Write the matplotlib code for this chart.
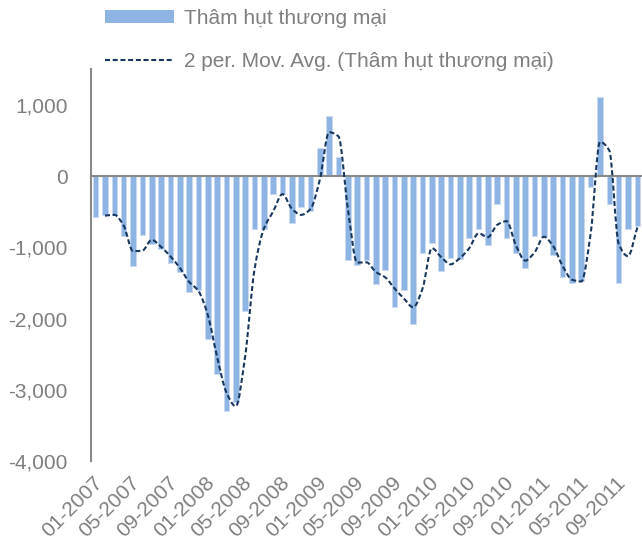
import matplotlib
matplotlib.use("Agg")
import matplotlib.pyplot as plt
import numpy as np
from matplotlib.path import Path
from matplotlib.patches import PathPatch
from matplotlib.lines import Line2D
from matplotlib.patches import Patch
import matplotlib.transforms as mtransforms
from matplotlib.ticker import FuncFormatter

plt.rcParams['font.family'] = ['Liberation Sans', 'DejaVu Sans']

# Monthly trade deficit, 01-2007 .. 11-2011
values = [-571, -538, -547, -842, -1263, -828, -959, -1025, -1226, -1343,
          -1623, -1600, -2292, -2780, -3293, -3170, -1900, -735, -745, -250,
          -255, -655, -431, -491, 393, 842, 276, -1179, -1249, -1170,
          -1521, -1319, -1834, -1600, -2082, -1076, -945, -1329, -1146, -1156,
          -866, -739, -973, -393, -870, -1076, -1296, -842, -860, -1109,
          -1413, -1493, -1465, -150, 1113, -393, -1502, -744, -697]
tick_labels = ["01-2007", "05-2007", "09-2007", "01-2008", "05-2008", "09-2008",
               "01-2009", "05-2009", "09-2009", "01-2010", "05-2010", "09-2010",
               "01-2011", "05-2011", "09-2011"]
bar_label = "Thâm hụt thương mại"
ma_label = "2 per. Mov. Avg. (Thâm hụt thương mại)"

TXT = '#7f7f7f'
AXC = '#898989'
BAR = '#8db4e2'
LINE = '#17375e'

fig = plt.figure(figsize=(6.42, 5.47), dpi=100)
ax = fig.add_axes([91/642, 1-461/547, 551/642, (461-69.4)/547])

x = np.arange(len(values))
vals = np.array(values, dtype=float)
ax.bar(x, vals, width=0.6, color=BAR, edgecolor='#c9daf0', linewidth=0.6, zorder=2)

# 2-period moving average, drawn as a smooth monotone cubic through the MA points
ma = (vals[1:] + vals[:-1]) / 2
mx = x[1:].astype(float)
n = len(ma)
d = np.diff(ma) / np.diff(mx)
m = np.zeros(n)
m[0] = d[0]
m[-1] = d[-1]
for i in range(1, n - 1):
    if d[i - 1] * d[i] <= 0:
        m[i] = 0.0
    else:
        m[i] = 2.0 / (1.0 / d[i - 1] + 1.0 / d[i])
verts = [(mx[0], ma[0])]
codes = [Path.MOVETO]
for i in range(n - 1):
    h = mx[i + 1] - mx[i]
    c1 = (mx[i] + h / 3, ma[i] + m[i] * h / 3)
    c2 = (mx[i + 1] - h / 3, ma[i + 1] - m[i + 1] * h / 3)
    verts += [c1, c2, (mx[i + 1], ma[i + 1])]
    codes += [Path.CURVE4] * 3
path = Path(verts, codes)
ax.add_patch(PathPatch(path, facecolor='none', edgecolor=LINE, lw=1.5,
                       linestyle=(0, (2.4, 1.3)), zorder=4, capstyle='butt'))

ax.axhline(0, color=AXC, lw=1.5, zorder=3)

ax.set_xlim(-0.5, len(values) - 0.5)
ax.set_ylim(-4000, 1500)
ax.set_yticks([-4000, -3000, -2000, -1000, 0, 1000])
ax.yaxis.set_major_formatter(FuncFormatter(lambda v, p: f"{int(v):,}"))
ax.set_xticks(np.arange(0, len(values), 4))
ax.set_xticklabels(tick_labels)

for s in ['top', 'right', 'bottom']:
    ax.spines[s].set_visible(False)
ax.spines['left'].set_color(AXC)
ax.spines['left'].set_linewidth(1.5)

ax.tick_params(axis='y', length=0, pad=17, labelsize=15, labelcolor=TXT)
ax.tick_params(axis='x', length=0, pad=9, labelsize=15, labelcolor=TXT)
offset = mtransforms.ScaledTranslation(-3/100, 0, fig.dpi_scale_trans)
for lab in ax.get_xticklabels():
    lab.set_rotation(45)
    lab.set_ha('right')
    lab.set_va('top')
    lab.set_rotation_mode('anchor')
    lab.set_transform(lab.get_transform() + offset)

handles = [Patch(facecolor=BAR, edgecolor='none'),
           Line2D([0], [0], color=LINE, lw=1.5, linestyle=(0, (2.4, 1.3)))]
leg = fig.legend(handles, [bar_label, ma_label], loc='upper left',
                 bbox_to_anchor=(105/642, 1-9/547), frameon=False,
                 fontsize=15, labelcolor=TXT, handlelength=3.3,
                 handleheight=0.6, handletextpad=0.5, labelspacing=1.15,
                 borderpad=0, borderaxespad=0)

fig.savefig("out.png", dpi=100)
